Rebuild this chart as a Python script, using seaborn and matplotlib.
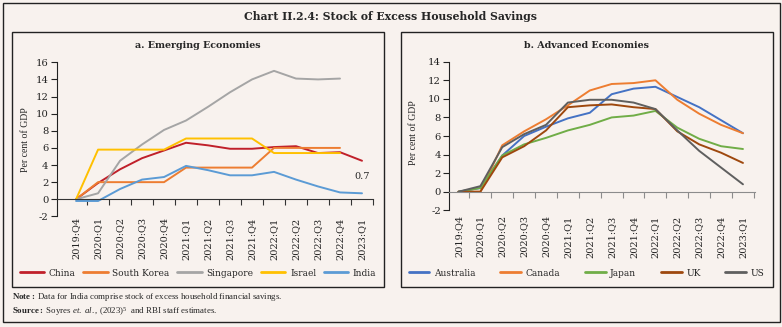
import numpy as np
import pandas as pd
import matplotlib
matplotlib.use("Agg")
import matplotlib.pyplot as plt
import seaborn as sns
from matplotlib.patches import Rectangle
from matplotlib.ticker import FixedLocator

# ---------------- data ----------------
quarters = ["2019:Q4", "2020:Q1", "2020:Q2", "2020:Q3", "2020:Q4", "2021:Q1", "2021:Q2",
            "2021:Q3", "2021:Q4", "2022:Q1", "2022:Q2", "2022:Q3", "2022:Q4", "2023:Q1"]

# a. Emerging economies (per cent of GDP)
china = [0, 1.9, 3.5, 4.8, 5.7, 6.6, 6.3, 5.9, 5.9, 6.1, 6.2, 5.4, 5.5, 4.5]
south_korea = [0, 2.0, 2.0, 2.0, 2.0, 3.7, 3.7, 3.7, 3.7, 6.0, 6.0, 6.0, 6.0, np.nan]
singapore = [0, 0.7, 4.5, 6.4, 8.1, 9.2, 10.8, 12.5, 14.0, 15.0, 14.1, 14.0, 14.1, np.nan]
israel = [0, 5.8, 5.8, 5.8, 5.8, 7.1, 7.1, 7.1, 7.1, 5.4, 5.4, 5.4, 5.4, np.nan]
india = [-0.2, -0.2, 1.2, 2.3, 2.6, 3.9, 3.4, 2.8, 2.8, 3.2, 2.3, 1.5, 0.8, 0.7]

# b. Advanced economies (per cent of GDP)
australia = [0, 0.4, 3.9, 6.0, 7.0, 7.9, 8.5, 10.5, 11.1, 11.3, 10.2, 9.1, 7.7, 6.3]
canada = [0, 0, 5.0, 6.5, 7.8, 9.3, 10.9, 11.6, 11.7, 12.0, 9.9, 8.4, 7.2, 6.3]
japan = [0, 0.4, 3.9, 5.1, 5.8, 6.6, 7.2, 8.0, 8.2, 8.7, 6.9, 5.7, 4.9, 4.6]
uk = [0, 0, 3.7, 4.9, 6.6, 9.1, 9.3, 9.4, 9.1, 8.9, 6.5, 5.1, 4.2, 3.1]
us = [0, 0.6, 4.8, 6.2, 7.2, 9.6, 9.9, 9.9, 9.6, 8.9, 6.6, 4.4, 2.6, 0.8]

emerging = {"China": china, "South Korea": south_korea, "Singapore": singapore,
            "Israel": israel, "India": india}
advanced = {"Australia": australia, "Canada": canada, "Japan": japan, "UK": uk, "US": us}

emerging_colors = ["#C0202A", "#ED7D31", "#A5A5A5", "#FFC000", "#5B9BD5"]
advanced_colors = ["#4472C4", "#ED7D31", "#70AD47", "#9E480E", "#5F5F5F"]

main_title = "Chart II.2.4: Stock of Excess Household Savings"
title_a = "a. Emerging Economies"
title_b = "b. Advanced Economies"
ylabel = "Per cent of GDP"


def to_long(d):
    rows = []
    for name, vals in d.items():
        for q, v in zip(quarters, vals):
            rows.append({"Quarter": q, "Value": v, "Series": name})
    return pd.DataFrame(rows)


# ---------------- style ----------------
sns.set_theme(style="white")
BG = "#F8F2EE"
plt.rcParams["font.family"] = ["DejaVu Serif"]
plt.rcParams["axes.facecolor"] = BG
plt.rcParams["figure.facecolor"] = BG
plt.rcParams["mathtext.fontset"] = "custom"
plt.rcParams["mathtext.rm"] = "Liberation Serif"
plt.rcParams["mathtext.bf"] = "Liberation Serif:bold"
plt.rcParams["mathtext.it"] = "Liberation Serif:italic"

W, H = 782, 327
fig = plt.figure(figsize=(W / 100, H / 100), dpi=100)


def fx(px):
    return px / W


def fy(py):
    return 1 - py / H


# outer border and panel boxes
fig.patches.append(Rectangle((fx(3), fy(322)), fx(777), 319 / H, transform=fig.transFigure,
                             fill=False, edgecolor="#222222", linewidth=1.0))
for x0, x1 in [(12, 384), (401, 773)]:
    fig.patches.append(Rectangle((fx(x0), fy(287)), fx(x1 - x0), 255 / H,
                                 transform=fig.transFigure, fill=False,
                                 edgecolor="#222222", linewidth=1.0))

fig.text(0.5, fy(17), main_title, ha="center", va="center", fontsize=7.8,
         fontweight="bold", family="DejaVu Serif")


def make_panel(rect, data, colors, ylim, yticks, xlim, title, title_x, ylab_x, ylab_y,
               leg_x0, leg_x1, handlelen, labelpad, axis_color):
    ax = fig.add_axes(rect)
    df = to_long(data)
    sns.lineplot(data=df, x="Quarter", y="Value", hue="Series", palette=colors,
                 linewidth=1.4, ax=ax, sort=False)
    for s in ["top", "right"]:
        ax.spines[s].set_visible(False)
    ax.spines["left"].set_color("#222222")
    ax.spines["left"].set_linewidth(0.8)
    ax.spines["bottom"].set_position(("data", 0))
    ax.spines["bottom"].set_color(axis_color)
    ax.spines["bottom"].set_linewidth(0.8)
    ax.set_xlim(*xlim)
    ax.set_ylim(*ylim)
    ax.set_yticks(yticks)
    ax.set_yticklabels([str(t) for t in yticks], fontsize=7.2)
    ax.set_xticks(range(len(quarters)))
    ax.set_xticklabels(quarters, rotation=90, fontsize=7)
    ax.xaxis.set_minor_locator(FixedLocator(np.arange(0.5, len(quarters), 1.0)))
    ax.tick_params(axis="x", which="major", length=0, pad=labelpad, colors="#222222")
    ax.tick_params(axis="x", which="minor", bottom=True, length=4, width=0.8,
                   direction="out", color=axis_color)
    ax.tick_params(axis="y", which="major", left=True, length=4, width=0.8,
                   direction="out", pad=2, colors="#222222")
    ax.set_xlabel("")
    ax.set_ylabel("")
    ax.grid(False)
    fig.text(title_x, fy(45), title, ha="center", va="center", fontsize=6.8,
             fontweight="bold")
    fig.text(ylab_x, fy(ylab_y), ylabel, rotation=90,
             ha="center", va="center", fontsize=7, family="Liberation Serif")
    sns.move_legend(ax, "center", bbox_to_anchor=(fx(leg_x0), fy(273), fx(leg_x1 - leg_x0), 0),
                    bbox_transform=fig.transFigure, ncol=5, mode="expand", frameon=False,
                    title=None, fontsize=6.5, handlelength=handlelen, handletextpad=0.5,
                    columnspacing=0.6, borderaxespad=0)
    for line in ax.get_legend().get_lines():
        line.set_linewidth(2.0)
    return ax


ax_a = make_panel([fx(56.7), fy(216.4), fx(373 - 56.7), (216.4 - 62.3) / H],
                  emerging, emerging_colors, (-2, 16), list(range(-2, 17, 2)),
                  (-0.88, 13.5), title_a, fx(198), fx(26), 140, 16, 380, 2.7, 13, "#333333")
ax_b = make_panel([fx(449.3), fy(210.3), fx(755 - 449.3), (210.3 - 61.7) / H],
                  advanced, advanced_colors, (-2, 14), list(range(-2, 15, 2)),
                  (-0.42, 13.55), title_b, fx(587), fx(414), 133, 405, 768, 2.3, 17, "#8C8C8C")

# India end label
ax_a.annotate(f"{india[-1]:.1f}", xy=(len(quarters) - 1, india[-1]), xytext=(0, 9),
              textcoords="offset points", ha="center", va="bottom", fontsize=7)

# notes
fig.text(fx(12), fy(297), r"$\bf{Note:}$ Data for India comprise stock of excess household financial savings.",
         ha="left", va="center", fontsize=6.4, family="Liberation Serif")
fig.text(fx(12), fy(312), r"$\bf{Source:}$ Soyres $\it{et.\ al.}$, (2023)$^5$  and RBI staff estimates.",
         ha="left", va="center", fontsize=6.4, family="Liberation Serif")

fig.savefig("out.png", dpi=100, facecolor=BG)
